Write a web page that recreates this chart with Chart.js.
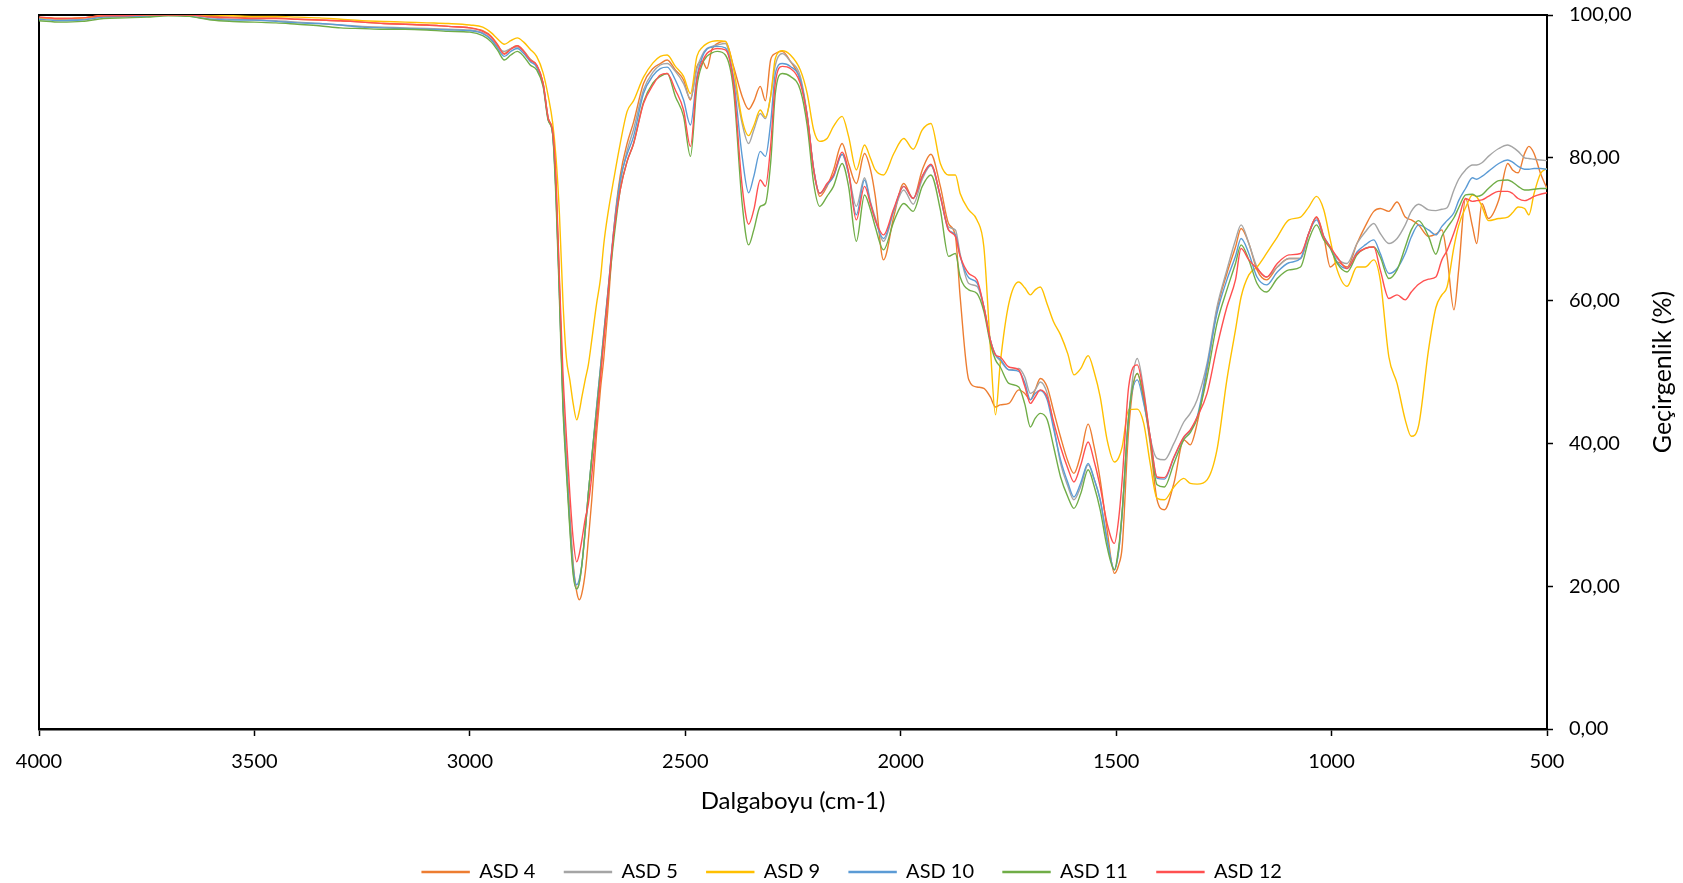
<!DOCTYPE html>
<html>
<head>
<meta charset="utf-8">
<style>
  html, body { margin: 0; padding: 0; background: #fff; }
  #wrap { width: 1683px; height: 883px; position: relative; }
</style>
<script src="https://cdn.jsdelivr.net/npm/chart.js@4.4.1/dist/chart.umd.min.js"></script>
</head>
<body>
<div id="wrap"><canvas id="chart"></canvas></div>
<script>
/* FT-IR spectra, transmittance vs wavenumber */

const wavenumbers = [4000,3950,3900,3850,3800,3750,3700,3650,3600,3550,3500,3450,3400,3350,3300,3250,3200,3150,3100,3050,
  3000,2970,2950,2935,2920,2905,2890,2875,2860,2845,2830,2818,2808,2800,2792,2784,2776,2768,2760,2752,
  2746,2740,2732,2725,2717,2706,2697,2689,2680,2666,2651,2635,2620,2597,2575,2558,2542,2523,2504,2488,
  2473,2460,2450,2438,2426,2407,2388,2368,2353,2341,2326,2314,2302,2291,2275,2256,2233,2217,2202,2188,
  2171,2156,2136,2121,2103,2084,2070,2059,2040,2016,1993,1971,1950,1930,1908,1889,1873,1862,1842,1823,
  1807,1792,1780,1769,1749,1726,1712,1699,1688,1676,1660,1645,1629,1612,1598,1582,1565,1551,1537,1521,
  1504,1494,1486,1471,1451,1436,1421,1405,1388,1366,1343,1328,1312,1289,1266,1243,1223,1210,1192,1173,
  1151,1126,1099,1072,1053,1035,1018,1003,987,964,941,922,902,887,867,848,829,815,798,775,
  758,744,732,716,705,689,673,663,651,636,612,591,580,567,552,542,530,515,500];

const asd4 = [99.7,99.5,99.6,99.9,99.9,100,100,100,99.8,99.7,99.6,99.6,99.4,99.3,99.2,99.0,98.8,98.7,98.6,98.4,
  98.2,97.8,97.0,95.8,94.6,95.3,95.7,95.0,93.8,93.0,90.5,85.5,83.5,76,62,47,38,30,23,19.2,
  18.1,19,22,26.5,32.1,41.3,47.5,52,58.5,69.9,77.5,82,85,90.4,92.5,93.2,93.7,92.3,90.9,88.1,
  92.8,93.5,92.5,95.2,96.0,96.3,92.8,88.6,86.8,87.9,90.0,88.0,93.7,94.6,94.9,93.5,90.9,85.8,78.3,74.6,
  76.0,78.3,82.0,79.2,76.4,80.6,78.3,74.6,65.7,71.8,76.4,74.3,78.3,80.5,76.0,70.8,69.0,60.5,48.9,47.9,
  47.7,46.5,45.1,45.4,45.6,47.5,47.0,46.1,47.5,49.1,47.9,44.5,40.9,37.5,35.8,38.5,42.7,39.5,34.9,27.9,
  21.8,23.0,25.5,41.9,49.8,46.0,40.0,32.1,30.7,34.4,40.5,39.8,42.8,50.3,58.7,63.8,67.5,70.1,68.0,64.3,
  62.9,64.7,65.9,65.9,69.4,71.7,68.9,64.7,65.4,64.7,68.0,70.4,72.5,72.9,72.5,73.8,71.7,71.3,70.6,69.0,
  69.3,69.9,66.2,58.7,64.3,74.3,70.4,68.0,73.6,71.5,74.1,79.2,78.3,77.9,80.6,81.6,80.6,77.8,75.7];

const asd5 = [99.5,99.4,99.4,99.8,99.8,99.9,100,100,99.6,99.4,99.3,99.2,99.0,98.8,98.6,98.4,98.3,98.2,98.1,98.0,
  97.9,97.5,96.6,95.5,94.9,95.3,95.5,94.9,93.8,92.9,90.4,85.5,83.5,75,61,46,37,28.5,22,19.6,
  20.5,23,28,33,38,45,50.5,55.5,61,69.5,76.5,81,84,89.5,92,93,93.2,92.1,90.4,88.3,
  92.5,94.5,95.3,95.6,95.8,96.0,91.4,84.8,82.0,83.9,86.2,85.5,88.6,93.0,94.6,93.5,91.4,86.0,78.5,75.0,
  76.2,77.4,80.5,77.8,73.2,77.2,73.8,71.6,68.3,72.5,75.5,73.5,77.0,78.9,74.6,70.3,69.9,66.5,62.4,62.0,
  59.1,54.5,52.4,51.6,50.3,50.5,49.3,47.0,47.5,48.6,47.0,42.5,37.2,34.0,32.1,34.0,37.0,35.0,32.1,26.5,
  22.3,25.0,30.2,43.7,51.9,47.5,40.9,37.9,37.7,40.0,43.0,44.2,46.1,51.2,59.1,64.3,68.5,70.6,68.0,64.7,
  63.3,64.7,65.9,65.9,69.4,71.6,69.0,67.5,65.9,65.2,68.0,69.6,70.8,69.4,68.0,68.7,70.6,72.5,73.5,72.7,
  72.6,72.8,73.0,75.5,77.0,78.3,79.0,79.0,79.3,80.2,81.3,81.8,81.5,80.9,80.0,79.9,79.8,79.7,79.6];

const asd9 = [99.6,99.5,99.6,99.9,99.9,100,100,100,100,99.9,99.8,99.8,99.7,99.6,99.4,99.2,99.1,99.0,98.9,98.8,
  98.6,98.3,97.5,96.6,95.9,96.4,96.8,96.2,95.2,94.2,91.9,88.6,85.0,80,72,60,52,48.9,45.5,43.3,
  44.5,46.5,49,51,54.5,59.5,63,68,72,77,82,86.5,88,91.3,93.3,94.2,94.4,92.8,91.4,89.0,
  94.2,95.5,96.0,96.3,96.4,96.3,92.5,85.3,83.1,84.5,86.7,85.7,88.6,93.9,95.0,94.4,92.3,89.0,83.9,82.3,
  82.7,84.4,85.8,83.0,78.3,81.8,79.9,78.3,77.6,80.6,82.7,81.2,83.9,84.8,79.2,77.6,77.6,75.0,72.7,71.3,
  67.5,53.5,44.0,51.2,59.6,62.6,61.8,60.8,61.5,61.9,59.5,57.0,55.2,52.5,49.6,50.5,52.3,50.0,46.5,40.5,
  37.4,38.0,39.5,44.7,44.8,42.8,37.2,32.3,32.1,33.9,35.1,34.4,34.3,34.9,39.1,48.9,55.9,60.5,63.6,64.7,
  66.6,68.9,71.3,71.7,73.1,74.6,72.7,68.5,64.3,62.0,64.7,64.7,65.7,62.9,52.1,48.4,43.3,41.0,42.5,53.1,
  59.0,60.8,61.9,67.5,70.5,73.0,74.8,74.5,73.2,71.2,71.5,71.7,72.3,73.1,72.9,72.0,75.0,77.8,78.5];

const asd10 = [99.4,99.2,99.3,99.7,99.8,99.8,100,99.8,99.4,99.3,99.3,99.1,98.9,98.8,98.6,98.3,98.2,98.1,98.0,97.9,
  97.8,97.4,96.5,95.3,94.2,94.9,95.3,94.6,93.5,92.7,90.2,85.3,83.5,75,61,46,37,29,22.5,20.2,
  21,23,28,33,38,45,50.5,55.5,61,69.9,76.9,80.5,83,89,91.5,92.5,92.7,90.9,88.1,84.6,
  91.4,94.2,95.2,95.5,95.6,95.4,90.9,80.2,75.1,77.4,80.9,80.2,84.8,91.8,93.2,92.8,90.9,85.8,78.3,75.0,
  76.2,77.4,80.5,77.8,72.0,76.9,73.6,71.3,68.7,72.7,76.0,74.3,77.4,79.0,74.6,69.9,69.2,66.2,63.2,62.5,
  59.1,54.5,52.4,51.8,50.3,50.1,48.5,46.1,47.0,47.4,46.1,42.0,37.7,34.5,32.5,34.5,37.2,35.0,32.1,26.5,
  22.3,25.0,30.2,43.7,48.9,45.6,40.9,35.1,35.0,38.0,40.8,41.8,43.7,50.7,58.2,62.9,66.2,68.7,66.6,63.3,
  62.2,64.0,65.3,65.9,69.4,71.3,68.9,67.5,65.4,64.5,66.8,67.8,68.5,66.6,63.8,64.5,66.6,68.9,70.6,69.9,
  69.2,70.4,71.2,72.3,74.0,75.7,77.2,77.0,77.4,78.1,79.2,79.7,79.4,78.8,78.4,78.4,78.5,78.5,78.4];

const asd11 = [99.2,99.0,99.1,99.5,99.6,99.7,99.9,99.8,99.3,99.1,99.0,98.9,98.7,98.5,98.2,98.1,98.0,98.0,97.9,97.7,
  97.6,97.1,96.2,95.0,93.7,94.4,94.9,94.2,93.0,92.3,90.0,85.2,83.4,74,60,45,36,28,21.5,19.6,
  20.5,23,28,33,38,44.5,50,55,60.5,68.5,75.5,79.5,82,87.8,90.5,91.4,91.8,88.6,85.8,80.2,
  90.0,93.2,94.2,94.7,94.9,94.4,89.5,73.6,67.8,69.9,73.2,73.6,79.2,89.0,91.8,91.4,89.5,84.5,76.4,73.2,
  74.6,76.0,79.2,76.0,68.3,74.8,72.7,70.3,67.1,71.1,73.6,72.5,76.0,77.6,72.7,66.2,66.6,63.3,61.5,61.0,
  58.5,54.0,51.7,50.7,48.4,47.9,45.5,42.3,43.5,44.2,43.3,39.5,35.3,32.5,30.9,33.0,36.3,34.0,30.7,25.5,
  22.3,25.5,30.5,43.7,49.8,46.5,40.5,34.2,33.9,37.2,40.5,41.5,43.5,49.3,56.8,61.5,65.2,67.8,65.7,62.4,
  61.2,63.1,64.3,64.7,68.5,70.6,68.5,67.3,65.2,64.0,66.4,67.3,67.5,66.1,63.1,64.3,67.5,69.9,71.2,69.0,
  66.5,69.0,70.2,71.6,73.0,74.8,74.9,74.6,74.8,75.7,76.8,76.9,76.6,76.0,75.5,75.5,75.6,75.7,75.7];

const asd12 = [99.7,99.5,99.6,99.9,99.9,100,100,100,99.7,99.6,99.5,99.5,99.4,99.3,99.2,99.0,98.8,98.7,98.6,98.4,
  98.2,97.7,96.9,95.7,94.5,95.2,95.7,94.9,93.7,93.0,90.4,85.5,83.8,77,63,50,41,33,26.5,23.4,
  24.5,26.5,29.5,31.5,35.5,43,49,54.5,60.5,69.5,75.5,79.5,82,87.6,90.2,91.6,91.8,89.5,86.7,81.6,
  90.9,93.5,94.6,95.1,95.3,95.1,90.4,76.0,70.7,72.7,76.9,76.0,81.6,90.5,92.8,92.5,90.4,85.8,78.3,75.0,
  76.4,77.6,80.8,78.0,71.3,76.0,73.5,71.3,69.2,72.9,76.0,74.3,77.4,79.1,74.6,69.9,69.0,66.2,63.8,62.9,
  59.1,54.5,52.4,52.1,50.7,50.3,48.0,45.6,46.5,47.5,46.5,43.0,39.5,36.5,34.6,37.0,40.2,37.5,33.9,28.8,
  26.0,29.5,34.9,47.9,51.0,47.0,40.9,35.3,35.2,38.1,40.9,41.9,43.7,47.0,53.5,59.1,62.9,67.3,65.7,64.5,
  63.3,65.2,66.4,66.6,69.4,71.7,68.9,67.5,66.1,64.5,66.6,67.3,67.5,64.3,60.3,60.8,60.1,61.2,62.3,63.0,
  63.3,65.7,67.0,69.5,71.5,74.3,73.9,74.0,74.1,74.6,75.3,75.3,75.0,74.3,74.0,74.2,74.6,74.9,75.1];

const seriesNames = ['ASD 4', 'ASD 5', 'ASD 9', 'ASD 10', 'ASD 11', 'ASD 12'];
const seriesValues = [asd4, asd5, asd9, asd10, asd11, asd12];
const seriesColors = ['#ED7D31', '#A5A5A5', '#FFC000', '#5B9BD5', '#70AD47', '#FF5050'];

const xTickValues = [4000, 3500, 3000, 2500, 2000, 1500, 1000, 500];
const yTickValues = [0, 20, 40, 60, 80, 100];
const xTitle = 'Dalgaboyu (cm-1)';
const yTitle = 'Geçirgenlik (%)';

const FONT = 'Lato';
Chart.defaults.font.family = FONT;
Chart.defaults.color = '#000';

// box lines on top/left + y title reading bottom-to-top (Excel style)
const framePlugin = {
  id: 'frame',
  beforeDatasetsDraw(chart) {
    const { ctx, chartArea: a } = chart;
    ctx.save();
    ctx.strokeStyle = '#000';
    ctx.lineWidth = 2;
    ctx.beginPath();
    ctx.moveTo(a.left, a.bottom);
    ctx.lineTo(a.left, a.top);
    ctx.lineTo(a.right, a.top);
    ctx.stroke();
    ctx.restore();
  },
  afterDraw(chart) {
    const { ctx, chartArea: a } = chart;
    ctx.save();
    ctx.translate(a.right + 116, (a.top + a.bottom) / 2);
    ctx.rotate(-Math.PI / 2);
    ctx.font = `25px ${FONT}`;
    ctx.fillStyle = '#000';
    ctx.textAlign = 'center';
    ctx.textBaseline = 'middle';
    ctx.fillText(yTitle, 0, 0);
    ctx.restore();
  }
};

const datasets = seriesNames.map((name, i) => ({
  label: name,
  data: wavenumbers.map((w, j) => ({ x: w, y: seriesValues[i][j] })),
  borderColor: seriesColors[i],
  backgroundColor: seriesColors[i],
  borderWidth: 1.4,
  pointRadius: 0,
  cubicInterpolationMode: 'monotone',
  order: seriesNames.length - i,
}));

const PAD_BOTTOM = -9;
const PAD_RIGHT = 18;

new Chart(document.getElementById('chart'), {
  type: 'line',
  data: { datasets },
  options: {
    responsive: true,
    maintainAspectRatio: false,
    animation: false,
    layout: { padding: { left: 39, top: 15, right: PAD_RIGHT, bottom: PAD_BOTTOM } },
    plugins: {
      legend: {
        position: 'bottom',
        labels: {
          font: { size: 20 },
          color: '#000',
          boxWidth: 47,
          boxHeight: 1,
          padding: 29,
          sort: (a, b) => a.datasetIndex - b.datasetIndex,
        },
      },
      tooltip: { enabled: false },
    },
    scales: {
      x: {
        type: 'linear',
        reverse: true,
        min: 500,
        max: 4000,
        afterBuildTicks: s => { s.ticks = xTickValues.map(v => ({ value: v })); },
        afterFit: s => { s.height = 883 - 729 - s.chart.legend.height - PAD_BOTTOM; },
        grid: { drawOnChartArea: false, drawTicks: true, tickLength: 7, tickColor: '#000', tickWidth: 1.5 },
        border: { display: true, color: '#000', width: 2.5 },
        ticks: { font: { size: 20 }, color: '#000', padding: 14, maxRotation: 0, autoSkip: false,
                 callback: v => String(v) },
        title: { display: true, text: xTitle, font: { size: 24 }, color: '#000', padding: { top: 0, bottom: 17 } },
      },
      y: {
        position: 'right',
        min: 0,
        max: 100,
        afterBuildTicks: s => { s.ticks = yTickValues.map(v => ({ value: v })); },
        afterFit: s => { s.width = 136 - PAD_RIGHT; s.paddingTop = 0; s.paddingBottom = 0; },
        grid: { drawOnChartArea: false, drawTicks: true, tickLength: 6, tickColor: '#000', tickWidth: 1.5 },
        border: { display: true, color: '#000', width: 2 },
        ticks: { font: { size: 20 }, color: '#000', padding: 16,
                 callback: v => v.toFixed(2).replace('.', ',') },
      },
    },
  },
  plugins: [framePlugin],
});
</script>
</body>
</html>
